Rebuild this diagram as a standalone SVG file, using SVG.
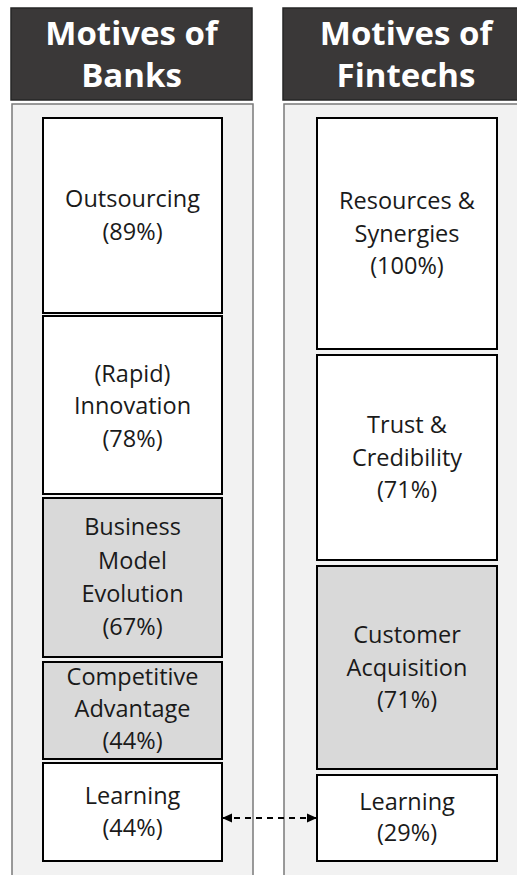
<svg xmlns="http://www.w3.org/2000/svg" width="517" height="875" viewBox="0 0 517 875">
<defs>
<style>
.hdr{fill:#3a3838;stroke:#262626;stroke-width:1.5}
.hdrt{font-family:"Open Sans","Liberation Sans",sans-serif;font-weight:bold;font-size:33px;fill:#ffffff;text-anchor:middle}
.panel{fill:#f2f2f2;stroke:#7a7a7a;stroke-width:1.5}
.box{fill:#ffffff;stroke:#000000;stroke-width:2}
.gbox{fill:#d9d9d9;stroke:#000000;stroke-width:2}
.t{font-family:"Open Sans","Liberation Sans",sans-serif;font-size:23.5px;fill:#1a1a1a;text-anchor:middle}
.conn{stroke:#000000;stroke-width:2;stroke-dasharray:6 5;fill:none}
</style>
<marker id="ah" viewBox="0 0 10 10" refX="9" refY="5" markerWidth="10" markerHeight="10" markerUnits="userSpaceOnUse" orient="auto-start-reverse">
<path d="M0,0.5 L10,5 L0,9.5 z" fill="#000000"/>
</marker>
</defs>
<g id="banks-header">
<rect class="hdr" x="11" y="8" width="241" height="92"/>
<text class="hdrt" x="131.5" y="45">Motives of</text>
<text class="hdrt" x="131.5" y="87">Banks</text>
</g>
<g id="fintechs-header">
<rect class="hdr" x="283" y="8" width="246" height="92"/>
<text class="hdrt" x="406" y="45">Motives of</text>
<text class="hdrt" x="406" y="87">Fintechs</text>
</g>
<g id="banks-panel">
<rect class="panel" x="12" y="104" width="241" height="790"/>
</g>
<g id="fintechs-panel">
<rect class="panel" x="284" y="104" width="246" height="790"/>
</g>
<g id="b-outsourcing">
<rect class="box" x="43" y="118" width="179" height="195"/>
<text class="t" x="132.5" y="207">Outsourcing</text>
<text class="t" x="132.5" y="240">(89%)</text>
</g>
<g id="b-innovation">
<rect class="box" x="43" y="316" width="179" height="178"/>
<text class="t" x="132.5" y="381.5">(Rapid)</text>
<text class="t" x="132.5" y="414">Innovation</text>
<text class="t" x="132.5" y="446.5">(78%)</text>
</g>
<g id="b-business-model">
<rect class="gbox" x="43" y="498" width="179" height="159"/>
<text class="t" x="132.5" y="535">Business</text>
<text class="t" x="132.5" y="569">Model</text>
<text class="t" x="132.5" y="602">Evolution</text>
<text class="t" x="132.5" y="635">(67%)</text>
</g>
<g id="b-competitive">
<rect class="gbox" x="43" y="662" width="179" height="97"/>
<text class="t" x="132.5" y="685">Competitive</text>
<text class="t" x="132.5" y="717">Advantage</text>
<text class="t" x="132.5" y="749">(44%)</text>
</g>
<g id="b-learning">
<rect class="box" x="43" y="763" width="179" height="98"/>
<text class="t" x="132.5" y="804">Learning</text>
<text class="t" x="132.5" y="836">(44%)</text>
</g>
<g id="f-resources">
<rect class="box" x="317" y="118" width="180" height="231"/>
<text class="t" x="407" y="208.5">Resources &amp;</text>
<text class="t" x="407" y="241.5">Synergies</text>
<text class="t" x="407" y="274">(100%)</text>
</g>
<g id="f-trust">
<rect class="box" x="317" y="355" width="180" height="205"/>
<text class="t" x="407" y="432.5">Trust &amp;</text>
<text class="t" x="407" y="465.5">Credibility</text>
<text class="t" x="407" y="498">(71%)</text>
</g>
<g id="f-customer">
<rect class="gbox" x="317" y="566" width="180" height="203"/>
<text class="t" x="407" y="643">Customer</text>
<text class="t" x="407" y="675.5">Acquisition</text>
<text class="t" x="407" y="708">(71%)</text>
</g>
<g id="f-learning">
<rect class="box" x="317" y="775" width="180" height="86"/>
<text class="t" x="407" y="810">Learning</text>
<text class="t" x="407" y="841">(29%)</text>
</g>
<g id="connectors">
<line class="conn" x1="223" y1="818" x2="316" y2="818" marker-start="url(#ah)" marker-end="url(#ah)"/>
</g>
</svg>
